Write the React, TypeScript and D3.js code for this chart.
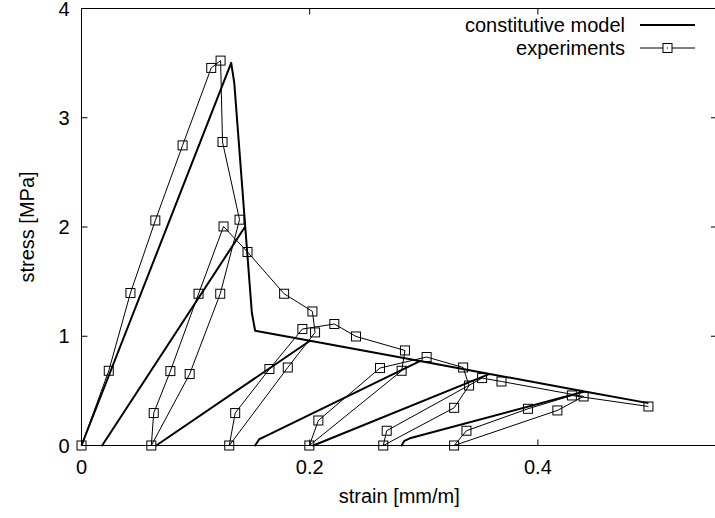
import React from "react";
import * as d3 from "d3";

// experiments (strain [mm/m], stress [MPa]) in recorded order
const expStrain = [
  0, 0.0239, 0.0429, 0.0647, 0.0886, 0.1137, 0.1219, 0.1236, 0.1385,
  0.1216, 0.0948, 0.0612, 0.0633, 0.0779, 0.1026, 0.1245, 0.1455, 0.1776,
  0.2024, 0.2047, 0.1808, 0.1295, 0.1347, 0.1647, 0.1936, 0.2216, 0.2406,
  0.2835, 0.2806, 0.1997, 0.2076, 0.2616, 0.3025, 0.3345, 0.3397, 0.3266,
  0.2645, 0.2675, 0.3511, 0.3681, 0.4401, 0.4171, 0.3266, 0.3374, 0.3913,
  0.4298, 0.4969,
];
const expStress = [
  0, 0.684, 1.396, 2.06, 2.747, 3.456, 3.523, 2.778, 2.067,
  1.389, 0.654, 0, 0.297, 0.681, 1.389, 2.005, 1.771, 1.389,
  1.227, 1.035, 0.714, 0, 0.297, 0.7, 1.066, 1.112, 0.998,
  0.87, 0.684, 0, 0.229, 0.709, 0.81, 0.714, 0.549, 0.345,
  0, 0.135, 0.617, 0.586, 0.449, 0.321, 0, 0.135, 0.336,
  0.458, 0.357,
];

// constitutive model path (loading, softening, unloading/reloading branches)
const modelStrain = [
  0, 0.1312, 0.1339, 0.1435, 0.0181, 0.1435, 0.1493, 0.1522, 0.2003,
  0.0655, 0.2003, 0.2966, 0.161, 0.1557, 0.1522, 0.1557, 0.161, 0.2966,
  0.3578, 0.2032, 0.3578, 0.4409, 0.2878, 0.283, 0.2806, 0.283, 0.2878,
  0.4409, 0.4969,
];
const modelStress = [
  0, 3.502, 3.319, 2.005, 0, 2.005, 1.215, 1.05, 0.959,
  0, 0.959, 0.773, 0.084, 0.057, 0, 0.057, 0.084, 0.773,
  0.655, 0, 0.655, 0.494, 0.066, 0.043, 0, 0.043, 0.066,
  0.494, 0.388,
];

const xTicks = [0, 0.2, 0.4];
const xTickLabels = ["0", "0.2", "0.4"];
const yTicks = [0, 1, 2, 3, 4];
const yTickLabels = ["0", "1", "2", "3", "4"];

const W = 715;
const H = 518;
const FONT = "'Liberation Sans', Arial, sans-serif";

export default function App() {
  const x = d3.scaleLinear().domain([0, 0.557]).range([81.5, 717]);
  const y = d3.scaleLinear().domain([0, 4]).range([445.5, 8.5]);

  const expPts: [number, number][] = expStrain.map((s, i) => [x(s), y(expStress[i])]);
  const modelPts: [number, number][] = modelStrain.map((s, i) => [x(s), y(modelStress[i])]);
  const line = d3.line<[number, number]>();

  const left = x(0);
  const right = x(0.557);
  const top = y(4);
  const bottom = y(0);
  const tick = 6;
  const sq = 4.5;

  return (
    <svg
      width={W}
      height={H}
      style={{ position: "absolute", left: 0, top: 0, background: "#fff" }}
      fontFamily={FONT}
    >
      <rect x={0} y={0} width={W} height={H} fill="#fff" />
      {/* border */}
      <rect
        x={left}
        y={top}
        width={right - left}
        height={bottom - top}
        fill="none"
        stroke="#000"
        strokeWidth={1}
      />
      {/* x ticks */}
      {xTicks.map((t, i) => (
        <g key={"xt" + i}>
          <line x1={x(t)} x2={x(t)} y1={bottom} y2={bottom - tick} stroke="#000" />
          <line x1={x(t)} x2={x(t)} y1={top} y2={top + tick} stroke="#000" />
          <text
            x={x(t)}
            y={bottom + 28}
            fontSize={20}
            textAnchor="middle"
            fill="#000"
          >
            {xTickLabels[i]}
          </text>
        </g>
      ))}
      {/* y ticks */}
      {yTicks.map((t, i) => (
        <g key={"yt" + i}>
          <line x1={left} x2={left + tick} y1={y(t)} y2={y(t)} stroke="#000" />
          <line x1={right} x2={right - tick} y1={y(t)} y2={y(t)} stroke="#000" />
          <text
            x={left - 12}
            y={y(t) + 7}
            fontSize={20}
            textAnchor="end"
            fill="#000"
          >
            {yTickLabels[i]}
          </text>
        </g>
      ))}
      {/* axis titles */}
      <text x={(left + right) / 2} y={503} fontSize={20} textAnchor="middle" fill="#000">
        strain [mm/m]
      </text>
      <text
        transform={`translate(34, ${(top + bottom) / 2}) rotate(-90)`}
        fontSize={20}
        textAnchor="middle"
        fill="#000"
      >
        stress [MPa]
      </text>

      {/* model */}
      <path
        d={line(modelPts) || ""}
        fill="none"
        stroke="#000"
        strokeWidth={2}
        strokeLinejoin="round"
      />
      {/* experiments */}
      <path d={line(expPts) || ""} fill="none" stroke="#000" strokeWidth={1} />
      {expPts.map((p, i) => (
        <g key={"p" + i}>
          <rect
            x={p[0] - sq}
            y={p[1] - sq}
            width={2 * sq}
            height={2 * sq}
            fill="none"
            stroke="#000"
            strokeWidth={1}
          />
        </g>
      ))}

      {/* legend */}
      <text x={625} y={32} fontSize={20} textAnchor="end" fill="#000">
        constitutive model
      </text>
      <line x1={640} x2={695} y1={25} y2={25} stroke="#000" strokeWidth={2} />
      <text x={625} y={55} fontSize={20} textAnchor="end" fill="#000">
        experiments
      </text>
      <line x1={640} x2={695} y1={48} y2={48} stroke="#000" strokeWidth={1} />
      <rect x={667.5 - sq} y={48 - sq} width={2 * sq} height={2 * sq} fill="#fff" stroke="#000" />
      <rect x={667} y={47.5} width={1} height={1} fill="#000" />
    </svg>
  );
}
